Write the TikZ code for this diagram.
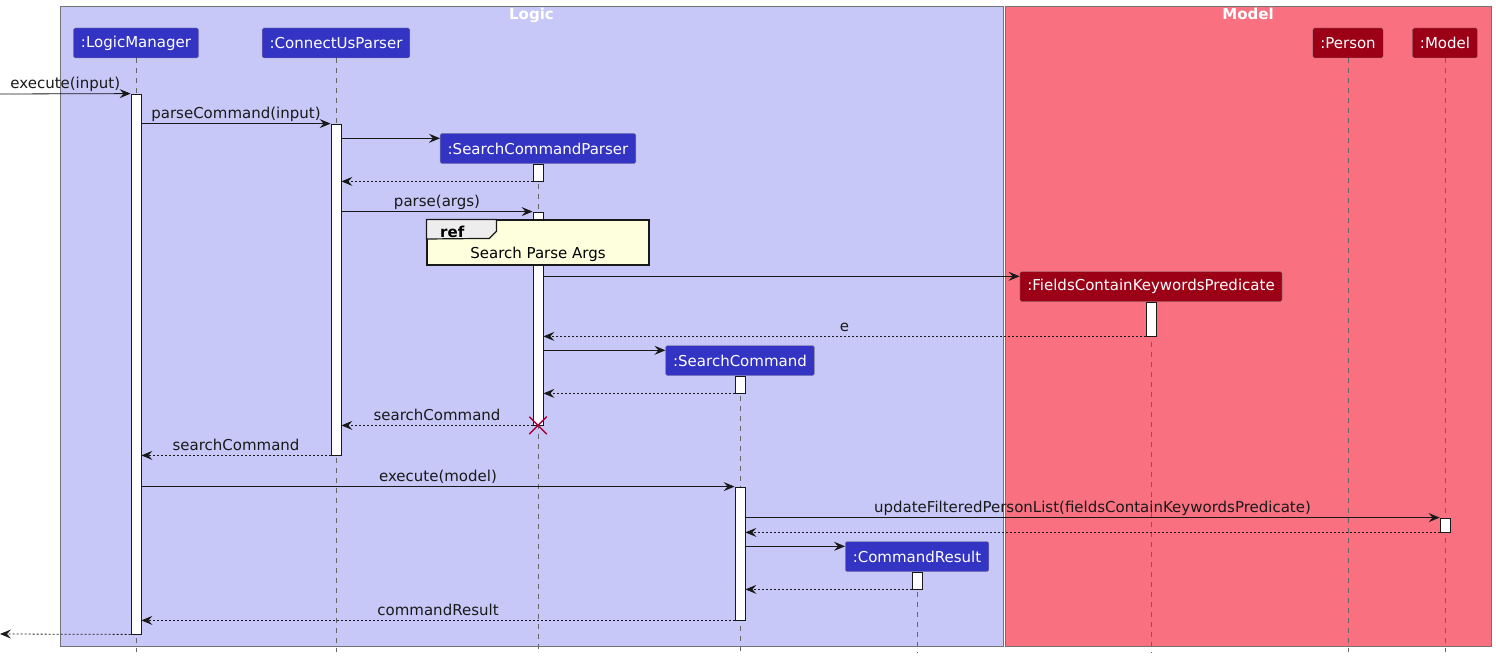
\documentclass[tikz,border=0pt]{standalone}
\usepackage{fontspec}
\setmainfont{DejaVu Sans}
\usetikzlibrary{arrows.meta, shapes.misc}
\definecolor{logicbg}{HTML}{C8C8F8}
\definecolor{modelbg}{HTML}{F97181}
\definecolor{logicpart}{HTML}{3333C4}
\definecolor{modelpart}{HTML}{9B0017}
\definecolor{refbg}{HTML}{FEFFDD}
\definecolor{killred}{HTML}{A80036}
\tikzset{>={Stealth[length=11pt,width=9pt,inset=4pt]}}
\tikzset{every node/.style={font=\fontsize{15}{18}\selectfont}}

\begin{document}
\begin{tikzpicture}[x=1pt, y=-1pt,
  group/.style={draw=black!55, line width=0.8pt, inner sep=0pt},
  part/.style={draw=black!45, text=white, rounded corners=1.5pt, minimum height=30pt, inner xsep=7.5pt, inner ysep=0pt},
  lpart/.style={part, fill=logicpart},
  mpart/.style={part, fill=modelpart},
  bar/.style={draw=black!90, fill=white, line width=0.8pt, minimum width=10pt, inner sep=0pt},
  lifeline/.style={draw=black!60, line width=0.6pt, dash pattern=on 5pt off 5pt},
  msg/.style={->, draw=black!90, line width=0.8pt},
  ret/.style={msg, dash pattern=on 2pt off 2pt},
  lbl/.style={anchor=base, yshift=5pt, inner sep=0pt, text=black!90}]
\useasboundingbox (0,0) rectangle (1496,658);
\node[group, fill=logicbg, minimum width=943pt, minimum height=640pt] (logic) at (531.5,326) {};
\node[group, fill=modelbg, minimum width=486pt, minimum height=640pt] (model) at (1248,326) {};
\node[below, text=white, font=\bfseries\fontsize{15}{18}\selectfont, inner sep=2.5pt] (logicT) at (logic.north) {Logic};
\node[below, text=white, font=\bfseries\fontsize{15}{18}\selectfont, inner sep=2.5pt] (modelT) at (model.north) {Model};

\node[lpart] (lm) at (136,43) {:LogicManager};
\node[lpart] (cup) at (336,43) {:ConnectUsParser};
\node[lpart] (scp) at (538,148.5) {:SearchCommandParser};
\node[lpart] (sc) at (740,360.5) {:SearchCommand};
\node[lpart] (cr) at (917,556.5) {:CommandResult};
\node[mpart] (fckp) at (1151,286.5) {:FieldsContainKeywordsPredicate};
\node[mpart] (person) at (1348,43) {:Person};
\node[mpart] (mdl) at (1445,43) {:Model};

\coordinate (bottom) at (0,652);
\foreach \p in {lm,cup,scp,sc,cr,fckp,person,mdl}
\draw[lifeline] (\p.south) -- (\p.south |- bottom);

\node[bar, minimum height=540pt] (lmA) at (136,364) {};
\node[bar, minimum height=331pt] (cupA) at (336,289.5) {};
\node[bar, minimum height=17pt] (scpA) at (538,172.5) {};
\node[bar, minimum height=213pt] (scpB) at (538,318.5) {};
\node[bar, minimum height=34pt] (fckpA) at (1151,319) {};
\node[bar, minimum height=17pt] (scA) at (740,384.5) {};
\node[bar, minimum height=133pt] (scB) at (740,553.5) {};
\node[bar, minimum height=14pt] (mdlA) at (1445,525) {};
\node[bar, minimum height=17pt] (crA) at (917,580.5) {};

\coordinate (in) at (0,94);
\coordinate (out) at (0,634);
\coordinate (scpIn) at ([yshift=-5pt]scp.north west);
\coordinate (fckpIn) at ([yshift=-5pt]fckp.north west);
\coordinate (scIn) at ([yshift=-5pt]sc.north west);
\coordinate (crIn) at ([yshift=-5pt]cr.north west);

\draw[msg] (in) -- (lmA.north west) node[lbl, midway] {execute(input)};
\draw[msg] (lmA.east |- cupA.north) -- (cupA.north west) node[lbl, midway] {parseCommand(input)};
\draw[msg] (cupA.east |- scpIn) -- (scpIn);
\draw[ret] (scpA.south west) -- (cupA.east |- scpA.south);
\draw[msg] (cupA.east |- scpB.north) -- (scpB.north west) node[lbl, midway] {parse(args)};

\node[draw=black!90, line width=1.2pt, fill=refbg, minimum width=222pt, minimum height=45pt] (ref) at (538,242.5) {};
\draw[fill=black!7, draw=black!90, line width=1.2pt] (ref.north west) -- ++(70,0) -- ++(0,12) -- ++(-7,7) -- (ref.west |- 0,239) -- cycle;
\node[anchor=base west, inner sep=0pt, font=\bfseries\fontsize{15}{18}\selectfont] (refT) at (440,237) {ref};
\node[anchor=base, inner sep=0pt] (refL) at (538,258) {Search Parse Args};

\draw[msg] (scpB.east |- fckpIn) -- (fckpIn);
\draw[ret] (fckpA.south west) -- (scpB.east |- fckpA.south) node[lbl, midway] {e};
\draw[msg] (scpB.east |- scIn) -- (scIn);
\draw[ret] (scA.south west) -- (scpB.east |- scA.south);
\draw[ret] (scpB.south west) -- (cupA.east |- scpB.south) node[lbl, midway] {searchCommand};
\node[cross out, draw=killred, line width=1.4pt, minimum size=16pt, inner sep=0pt] (kill) at (scpB.south) {};
\draw[ret] (cupA.south west) -- (lmA.east |- cupA.south) node[lbl, midway] {searchCommand};
\draw[msg] (lmA.east |- scB.north) -- (scB.north west) node[lbl, midway] {execute(model)};
\draw[msg] (scB.east |- mdlA.north) -- (mdlA.north west) node[lbl, midway] {updateFilteredPersonList(fieldsContainKeywordsPredicate)};
\draw[ret] (mdlA.south west) -- (scB.east |- mdlA.south);
\draw[msg] (scB.east |- crIn) -- (crIn);
\draw[ret] (crA.south west) -- (scB.east |- crA.south);
\draw[ret] (scB.south west) -- (lmA.east |- scB.south) node[lbl, midway] {commandResult};
\draw[ret] (lmA.south west) -- (out);
\end{tikzpicture}
\end{document}
